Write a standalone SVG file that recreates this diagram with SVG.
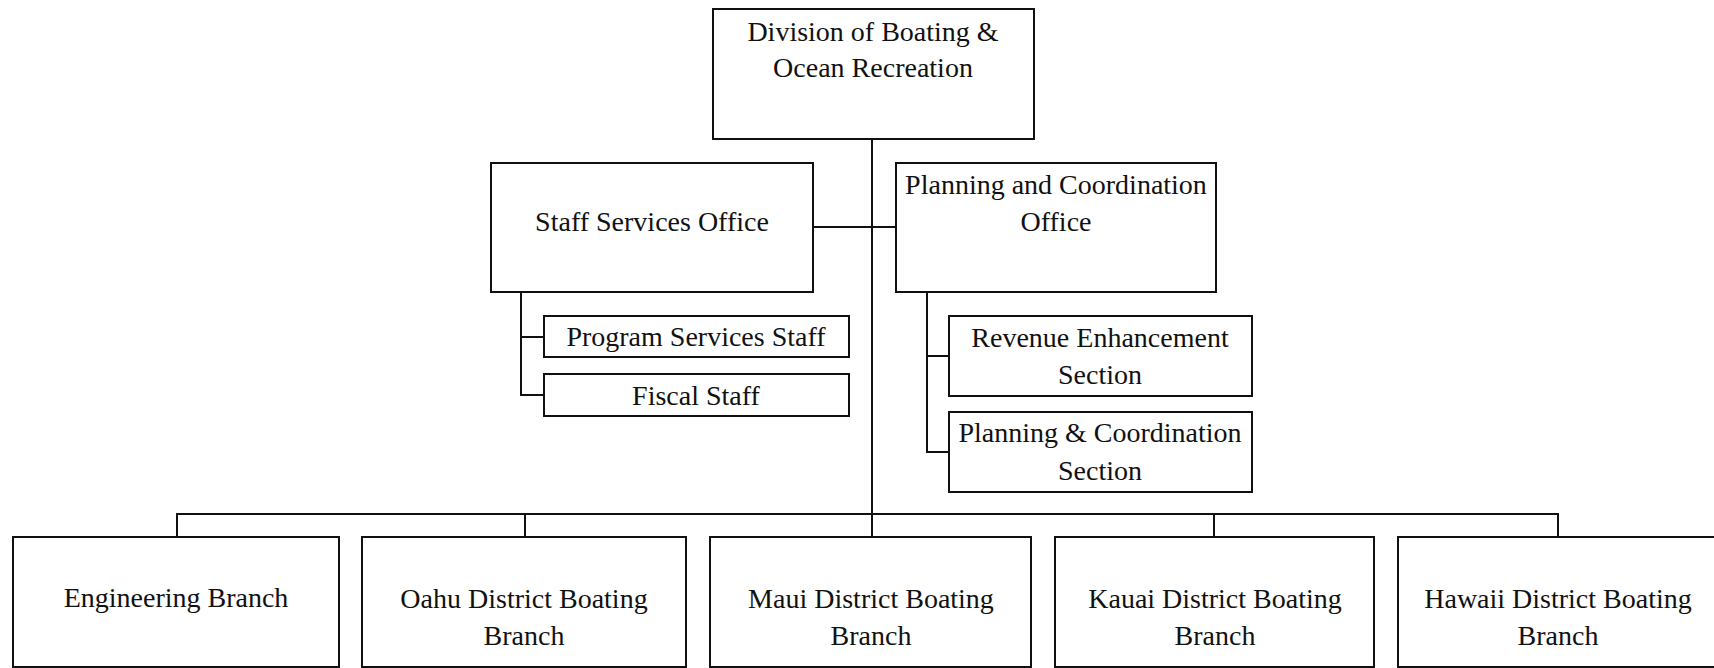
<svg xmlns="http://www.w3.org/2000/svg" width="1714" height="668" viewBox="0 0 1714 668">
<style>
.box{fill:#fff;stroke:#111;stroke-width:2}
.ln{fill:none;stroke:#111;stroke-width:2}
text{font-family:"Liberation Serif","Times New Roman",serif;font-size:28px;fill:#111;text-anchor:middle}
</style>
<rect width="1714" height="668" fill="#fff"/>
<g id="connectors">
<path class="ln" d="M872 139V537"/>
<path class="ln" d="M813 227H896"/>
<path class="ln" d="M521 292V395H544M521 337H544"/>
<path class="ln" d="M927 292V452H949M927 356H949"/>
<path class="ln" d="M177 537V514H1558V537M525 514V537M1214 514V537"/>
</g>
<g id="division">
<rect class="box" x="713" y="9" width="321" height="130"/>
<text x="873" y="41">Division of Boating &amp;</text>
<text x="873" y="77">Ocean Recreation</text>
</g>
<g id="staff-services">
<rect class="box" x="491" y="163" width="322" height="129"/>
<text x="652" y="231">Staff Services Office</text>
</g>
<g id="planning-office">
<rect class="box" x="896" y="163" width="320" height="129"/>
<text x="1056" y="194">Planning and Coordination</text>
<text x="1056" y="231">Office</text>
</g>
<g id="program-services">
<rect class="box" x="544" y="316" width="305" height="41"/>
<text x="696" y="346">Program Services Staff</text>
</g>
<g id="fiscal">
<rect class="box" x="544" y="374" width="305" height="42"/>
<text x="696" y="405">Fiscal Staff</text>
</g>
<g id="revenue">
<rect class="box" x="949" y="316" width="303" height="80"/>
<text x="1100" y="347">Revenue Enhancement</text>
<text x="1100" y="384">Section</text>
</g>
<g id="planning-section">
<rect class="box" x="949" y="412" width="303" height="80"/>
<text x="1100" y="442">Planning &amp; Coordination</text>
<text x="1100" y="480">Section</text>
</g>
<g id="engineering">
<rect class="box" x="13" y="537" width="326" height="130"/>
<text x="176" y="607">Engineering Branch</text>
</g>
<g id="oahu">
<rect class="box" x="362" y="537" width="324" height="130"/>
<text x="524" y="608">Oahu District Boating</text>
<text x="524" y="645">Branch</text>
</g>
<g id="maui">
<rect class="box" x="710" y="537" width="321" height="130"/>
<text x="871" y="608">Maui District Boating</text>
<text x="871" y="645">Branch</text>
</g>
<g id="kauai">
<rect class="box" x="1055" y="537" width="319" height="130"/>
<text x="1215" y="608">Kauai District Boating</text>
<text x="1215" y="645">Branch</text>
</g>
<g id="hawaii">
<rect class="box" x="1398" y="537" width="330" height="130"/>
<text x="1558" y="608">Hawaii District Boating</text>
<text x="1558" y="645">Branch</text>
</g>
</svg>
